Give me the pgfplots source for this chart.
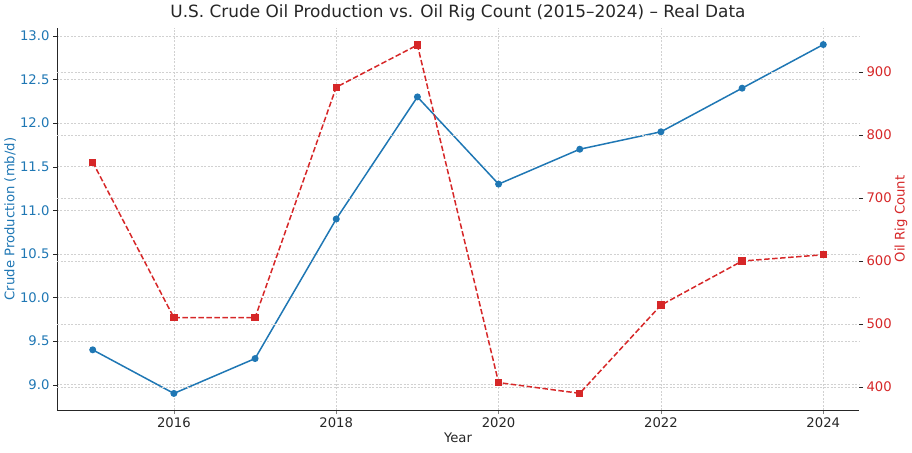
\documentclass[border=0pt]{standalone}
\usepackage{fontspec}
\setmainfont{DejaVu Sans}
\usepackage{pgfplots}
\pgfplotsset{compat=1.18}

\definecolor{prodblue}{HTML}{1F77B4}
\definecolor{rigred}{HTML}{D62728}
\definecolor{txtgray}{HTML}{262626}

\pgfplotsset{
  common/.style={
    scale only axis, width=802pt, height=382pt,
    xmin=2014.56, xmax=2024.44,
    tick align=outside,
    major tick length=4pt,
    ymajorgrids=true,
    grid style={dash pattern=on 2pt off 1.5pt, color=black!18, line width=0.6pt},
    tick label style={font=\fontsize{13.2}{15}\selectfont},
    label style={font=\fontsize{13.2}{15}\selectfont},
    /pgf/number format/assume math mode=true,
    /pgf/number format/1000 sep={},
  },
}

\begin{document}
\begin{tikzpicture}
  \begin{axis}[common,
      axis x line*=bottom, axis y line*=left,
      axis line style={txtgray, line width=0.9pt},
      xmajorgrids=true,
      xtick={2016,2018,2020,2022,2024},
      xticklabel style={txtgray},
      xlabel={Year}, xlabel style={txtgray, yshift=2pt},
      ymin=8.71, ymax=13.09,
      ytick={9.0,9.5,...,13.0},
      yticklabel style={prodblue, /pgf/number format/.cd, fixed, fixed zerofill, precision=1},
      ytick style={txtgray},
      ylabel={Crude Production (mb/d)}, ylabel style={prodblue, yshift=-3pt},
      title={U.S. Crude Oil Production vs. Oil Rig Count (2015–2024) – Real Data},
      title style={font=\fontsize{16.9}{20}\selectfont, txtgray, yshift=-3pt},
    ]
    \addplot[prodblue, line width=1.5pt, mark=*, mark size=2.7pt]
      coordinates {
        (2015,9.4)(2016,8.9)(2017,9.3)(2018,10.9)(2019,12.3)
        (2020,11.3)(2021,11.7)(2022,11.9)(2023,12.4)(2024,12.9)
      };
  \end{axis}
  \begin{axis}[common,
      axis x line=none, axis y line*=right,
      y axis line style={draw=none},
      ymin=363.5, ymax=970,
      ytick={400,500,...,900},
      yticklabel style={rigred},
      ytick style={txtgray},
      ylabel={Oil Rig Count}, ylabel style={rigred, yshift=4pt},
    ]
    \addplot[rigred, line width=1.5pt, dash pattern=on 5.5pt off 2.5pt,
        mark=square*, mark size=2.9pt, mark options={solid}]
      coordinates {
        (2015,757)(2016,510)(2017,510)(2018,876)(2019,943)
        (2020,407)(2021,390)(2022,530)(2023,600)(2024,610)
      };
  \end{axis}
  \path ([shift={(-57pt,-42pt)}]current axis.south west)
    rectangle ([shift={(53pt,28pt)}]current axis.north east);
\end{tikzpicture}
\end{document}
